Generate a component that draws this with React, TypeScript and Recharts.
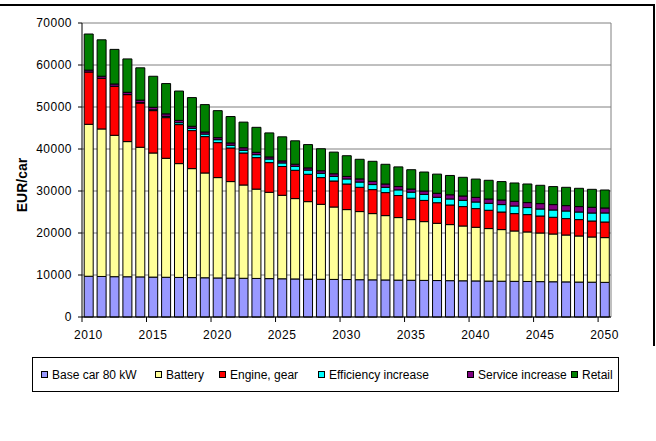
import { BarChart, Bar, XAxis, YAxis, CartesianGrid } from "recharts"

const YEARS = [
  "2010", "2011", "2012", "2013", "2014", "2015", "2016", "2017", "2018", "2019",
  "2020", "2021", "2022", "2023", "2024", "2025", "2026", "2027", "2028", "2029",
  "2030", "2031", "2032", "2033", "2034", "2035", "2036", "2037", "2038", "2039",
  "2040", "2041", "2042", "2043", "2044", "2045", "2046", "2047", "2048", "2049",
  "2050",
]

const BASE_CAR = [
  9700, 9650, 9600, 9580, 9550, 9500, 9460, 9420, 9380, 9340,
  9300, 9260, 9220, 9180, 9140, 9100, 9060, 9020, 8980, 8950,
  8920, 8880, 8850, 8820, 8780, 8750, 8720, 8680, 8650, 8620,
  8590, 8550, 8520, 8490, 8460, 8420, 8390, 8360, 8320, 8290,
  8250,
]

const BATTERY = [
  36180, 35120, 33660, 32180, 30860, 29550, 28330, 27100, 25950, 24950,
  23890, 22980, 22210, 21270, 20550, 19880, 19130, 18450, 17850, 17240,
  16650, 16220, 15770, 15320, 14890, 14440, 13990, 13630, 13350, 13050,
  12770, 12500, 12290, 11990, 11790, 11580, 11370, 11160, 10970, 10760,
  10650,
]

const ENGINE_GEAR = [
  12450, 12060, 11670, 11190, 10550, 10090, 9680, 9290, 9050, 8660,
  8330, 8000, 7620, 7500, 7070, 6850, 6740, 6510, 6360, 6190,
  6100, 5780, 5710, 5480, 5250, 5100, 5050, 4900, 4670, 4620,
  4450, 4360, 4190, 4140, 4130, 4050, 3980, 3910, 3900, 3810,
  3720,
]

const EFFICIENCY = [
  0, 0, 0, 0, 80, 200, 300, 450, 550, 600,
  700, 650, 650, 700, 850, 850, 950, 1000, 1030, 1100,
  1200, 1250, 1200, 1260, 1350, 1430, 1430, 1300, 1430, 1500,
  1570, 1660, 1760, 1810, 1670, 1660, 1740, 1810, 1810, 1900,
  2150,
]

const SERVICE = [
  450, 500, 550, 550, 600, 600, 600, 550, 480, 500,
  480, 550, 600, 560, 500, 480, 500, 520, 600, 620,
  600, 750, 780, 790, 790, 750, 800, 950, 1000, 1020,
  1100, 1030, 1100, 1120, 1190, 1290, 1280, 1280, 1290, 1360,
  1190,
]

const RETAIL = [
  8600, 8670, 8240, 7950, 7690, 7380, 7210, 6990, 6830, 6520,
  6430, 6290, 6100, 5950, 5720, 5740, 5570, 5550, 5240, 5160,
  4930, 4670, 4760, 4690, 4680, 4600, 4530, 4560, 4600, 4450,
  4360, 4450, 4380, 4360, 4430, 4360, 4290, 4360, 4350, 4280,
  4280,
]

const Y_TICKS = [0, 10000, 20000, 30000, 40000, 50000, 60000, 70000]

const SERIES = [
  { key: "base", name: "Base car 80 kW", color: "#9999ff" },
  { key: "battery", name: "Battery", color: "#ffff99" },
  { key: "engine", name: "Engine, gear", color: "#ff0000" },
  { key: "efficiency", name: "Efficiency increase", color: "#00ffff" },
  { key: "service", name: "Service increase", color: "#800080" },
  { key: "retail", name: "Retail", color: "#008000" },
]

// left offsets of the legend entries inside the legend box
const LEGEND_LEFT = [8, 122, 186, 285, 434, 538]

const FONT = "'Liberation Sans', Arial, sans-serif"

const data = YEARS.map((year, i) => ({
  year,
  base: BASE_CAR[i],
  battery: BATTERY[i],
  engine: ENGINE_GEAR[i],
  efficiency: EFFICIENCY[i],
  service: SERVICE[i],
  retail: RETAIL[i],
}))

function YearTick(props: any) {
  const { x, y, payload, width } = props
  const half = payload?.offset ?? width / YEARS.length / 2
  return (
    <g>
      <line x1={x - half} x2={x - half} y1={y} y2={y + 5} stroke="#000" />
      <text
        x={x}
        y={y + 22}
        textAnchor="middle"
        fontSize={12}
        letterSpacing={0.5}
        fill="#000"
        fontFamily={FONT}
      >
        {payload.value}
      </text>
    </g>
  )
}

function AxisTitle(props: any) {
  const vb = props.viewBox
  const cx = vb.x
  const cy = vb.y + vb.height / 2 + 15
  return (
    <text
      x={cx}
      y={cy}
      transform={`rotate(-90 ${cx} ${cy})`}
      textAnchor="middle"
      dominantBaseline="central"
      fontWeight="bold"
      fontSize={14}
      fontFamily={FONT}
      fill="#000"
    >
      EUR/car
    </text>
  )
}

export default function App() {
  return (
    <div style={{ position: "absolute", left: 0, top: 0, width: 656, height: 441, background: "#fff", fontFamily: FONT }}>
      <div style={{ position: "absolute", left: 0, top: 4, width: 655, height: 2, background: "#000" }} />
      <div style={{ position: "absolute", left: 653, top: 4, width: 2, height: 342, background: "#000" }} />

      <BarChart
        width={656}
        height={441}
        data={data}
        margin={{ top: 23, right: 45, left: 22, bottom: 94 }}
        barCategoryGap="17%"
      >
        <CartesianGrid
          stroke="#808080"
          verticalCoordinatesGenerator={({ offset }: any) => [offset.left + offset.width]}
        />
        <XAxis
          dataKey="year"
          interval={4}
          height={30}
          tickSize={0}
          tickMargin={0}
          tickLine={false}
          axisLine={{ stroke: "#000" }}
          tick={<YearTick />}
        />
        <YAxis
          width={60}
          domain={[0, 70000]}
          ticks={Y_TICKS}
          interval={0}
          tickSize={4}
          tickMargin={6}
          axisLine={{ stroke: "#000" }}
          tickLine={{ stroke: "#000" }}
          tick={{ fontSize: 12, fill: "#000", fontFamily: FONT, letterSpacing: 0.5 }}
          label={{ content: <AxisTitle /> }}
        />
        {SERIES.map((s) => (
          <Bar
            key={s.key}
            dataKey={s.key}
            name={s.name}
            stackId="cost"
            fill={s.color}
            stroke="#000"
            strokeWidth={1}
            isAnimationActive={false}
          />
        ))}
      </BarChart>

      <div
        style={{
          position: "absolute",
          left: 32,
          top: 357,
          width: 587,
          height: 35,
          boxSizing: "border-box",
          border: "1px solid #000",
        }}
      >
        {SERIES.map((s, i) => (
          <div
            key={s.key}
            style={{
              position: "absolute",
              left: LEGEND_LEFT[i],
              top: 0,
              height: 33,
              display: "flex",
              alignItems: "center",
              fontSize: 12,
              whiteSpace: "nowrap",
              color: "#000",
            }}
          >
            <span
              style={{
                display: "inline-block",
                width: 7,
                height: 7,
                boxSizing: "border-box",
                border: "1px solid #000",
                background: s.color,
                marginRight: 4,
              }}
            />
            {s.name}
          </div>
        ))}
      </div>
    </div>
  )
}
